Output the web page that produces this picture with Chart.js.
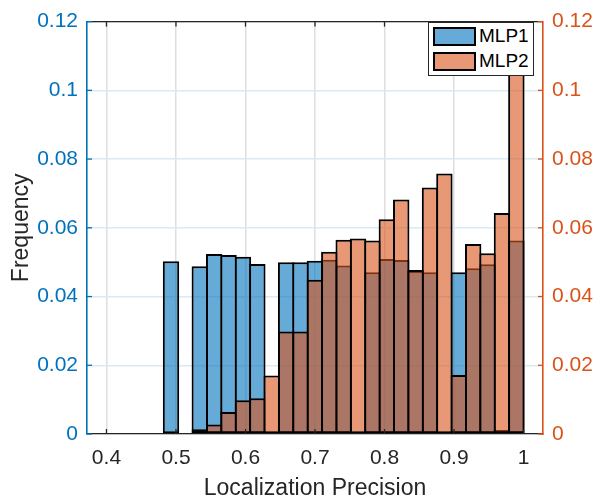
<!DOCTYPE html>
<html>
<head>
<meta charset="utf-8">
<script src="https://cdn.jsdelivr.net/npm/chart.js@4.4.1/dist/chart.umd.min.js"></script>
<style>
  html, body { margin: 0; padding: 0; background: #fff; }
  #wrap { position: relative; width: 594px; height: 502px; overflow: hidden; }
  #legend { position: absolute; left: 428px; top: 22px; width: 104px; height: 52px; background: #fff;
            border: 1.5px solid #262626; font-family: 'Liberation Sans', Arial, Helvetica, sans-serif; font-size: 19px; color: #000; }
  .item { position: absolute; left: 4px; height: 18px; display: flex; align-items: center; }
  .sw { width: 39px; height: 15px; border: 2px solid #000; box-sizing: content-box; margin-right: 3px; }
</style>
</head>
<body>
<div id="wrap">
  <canvas id="c" width="594" height="502"></canvas>
  <div id="legend">
    <div class="item" style="top:4px"><div class="sw" style="background:rgba(0,114,189,0.6)"></div><span id="l1"></span></div>
    <div class="item" style="top:29px"><div class="sw" style="background:rgba(217,83,25,0.6)"></div><span id="l2"></span></div>
  </div>
</div>
<script>
// ---- data ----
const seriesNames = ['MLP1', 'MLP2'];
const binEdges = [0.4825, 0.5032, 0.5239, 0.5446, 0.5653, 0.5860, 0.6067, 0.6274, 0.6481, 0.6688,
                  0.6895, 0.7102, 0.7309, 0.7516, 0.7723, 0.7930, 0.8137, 0.8344, 0.8551, 0.8758,
                  0.8965, 0.9172, 0.9379, 0.9586, 0.9793, 1.0000];
const mlp1 = [0.0503, 0, 0.0488, 0.0524, 0.0521, 0.0516, 0.0495, 0, 0.0500, 0.0500,
              0.0504, 0.0507, 0.0490, 0.0006, 0.0471, 0.0509, 0.0506, 0.0474, 0.0471, 0,
              0.0471, 0.0482, 0.0494, 0.0012, 0.0563];
const mlp2 = [0, 0, 0.0014, 0.0028, 0.0064, 0.0098, 0.0104, 0.0170, 0.0298, 0.0298,
              0.0449, 0.0530, 0.0565, 0.0569, 0.0563, 0.0625, 0.0682, 0.0477, 0.0717, 0.0758,
              0.0172, 0.0553, 0.0526, 0.0643, 0.1097];
const xTicks = [0.4, 0.5, 0.6, 0.7, 0.8, 0.9, 1.0];
const xTickLabels = ['0.4', '0.5', '0.6', '0.7', '0.8', '0.9', '1'];
const yTicks = [0, 0.02, 0.04, 0.06, 0.08, 0.10, 0.12];
const yTickLabels = ['0', '0.02', '0.04', '0.06', '0.08', '0.1', '0.12'];
const xTitle = 'Localization Precision';
const yTitle = 'Frequency';

document.getElementById('l1').textContent = seriesNames[0];
document.getElementById('l2').textContent = seriesNames[1];

const FONT = "'Liberation Sans', Arial, Helvetica, sans-serif";
const BLUE = '#0072BD', ORANGE = '#D95319', DARK = '#262626';

const toPts = arr => arr.map((v, i) => ({ x: (binEdges[i] + binEdges[i + 1]) / 2, y: v }));

function labelFor(ticks, labels) {
  return v => { const i = ticks.findIndex(t => Math.abs(t - v) < 1e-9); return i >= 0 ? labels[i] : ''; };
}

const innerTicks = {
  id: 'innerTicks',
  afterDatasetsDraw(chart) {
    const { ctx, chartArea: { left, right, top, bottom }, scales: { x, y, y2 } } = chart;
    const L = 5;
    ctx.save();
    ctx.lineWidth = 1.3;
    const line = (a, b, c, d) => { ctx.beginPath(); ctx.moveTo(a, b); ctx.lineTo(c, d); ctx.stroke(); };
    ctx.strokeStyle = DARK;
    line(left, top, right, top);
    xTicks.forEach(v => { const p = x.getPixelForValue(v); line(p, bottom, p, bottom - L); line(p, top, p, top + L); });
    ctx.strokeStyle = BLUE;
    yTicks.forEach(v => { const p = y.getPixelForValue(v); line(left, p, left + L, p); });
    ctx.strokeStyle = ORANGE;
    yTicks.forEach(v => { const p = y2.getPixelForValue(v); line(right, p, right - L, p); });
    ctx.restore();
  }
};

new Chart(document.getElementById('c'), {
  type: 'bar',
  data: {
    datasets: [
      { label: seriesNames[1], data: toPts(mlp2), backgroundColor: 'rgba(217,83,25,0.6)', borderColor: '#000',
        borderWidth: 2, borderSkipped: false, order: 0, yAxisID: 'y' },
      { label: seriesNames[0], data: toPts(mlp1), backgroundColor: 'rgba(0,114,189,0.6)', borderColor: '#000',
        borderWidth: 2, borderSkipped: false, order: 1, yAxisID: 'y' }
    ]
  },
  options: {
    responsive: false,
    animation: false,
    grouped: false,
    barPercentage: 1.14,
    categoryPercentage: 1,
    layout: { padding: { top: 12, left: 0, right: 0, bottom: 0 } },
    plugins: { legend: { display: false }, tooltip: { enabled: false } },
    scales: {
      x: {
        type: 'linear', min: 0.372, max: 1.028, offset: false,
        afterBuildTicks: s => { s.ticks = xTicks.map(v => ({ value: v })); },
        afterFit: s => { s.height = 68; },
        grid: { color: 'rgb(222,222,222)', lineWidth: 1.5, drawTicks: false, offset: false },
        border: { color: DARK, width: 1.3 },
        ticks: { callback: labelFor(xTicks, xTickLabels), color: DARK, font: { family: FONT, size: 21 }, padding: 12, maxRotation: 0, autoSkip: false },
        title: { display: true, text: xTitle, color: DARK, font: { family: FONT, size: 23 }, padding: { top: 0, bottom: 0 } }
      },
      y: {
        type: 'linear', position: 'left', min: 0, max: 0.12,
        afterBuildTicks: s => { s.ticks = yTicks.map(v => ({ value: v })); },
        afterFit: s => { s.width = 87; },
        grid: { color: 'rgb(217,234,245)', lineWidth: 1.5, drawTicks: false },
        border: { color: BLUE, width: 1.6 },
        ticks: { callback: labelFor(yTicks, yTickLabels), color: BLUE, font: { family: FONT, size: 21 }, padding: 9 },
        title: { display: true, text: yTitle, color: DARK, font: { family: FONT, size: 23 }, padding: { top: 8, bottom: 0 } }
      },
      y2: {
        type: 'linear', position: 'right', min: 0, max: 0.12,
        afterBuildTicks: s => { s.ticks = yTicks.map(v => ({ value: v })); },
        afterFit: s => { s.width = 51; },
        grid: { display: false, drawTicks: false },
        border: { color: ORANGE, width: 1.6 },
        ticks: { callback: labelFor(yTicks, yTickLabels), color: ORANGE, font: { family: FONT, size: 21 }, padding: 9 }
      }
    }
  },
  plugins: [innerTicks]
});
</script>
</body>
</html>
